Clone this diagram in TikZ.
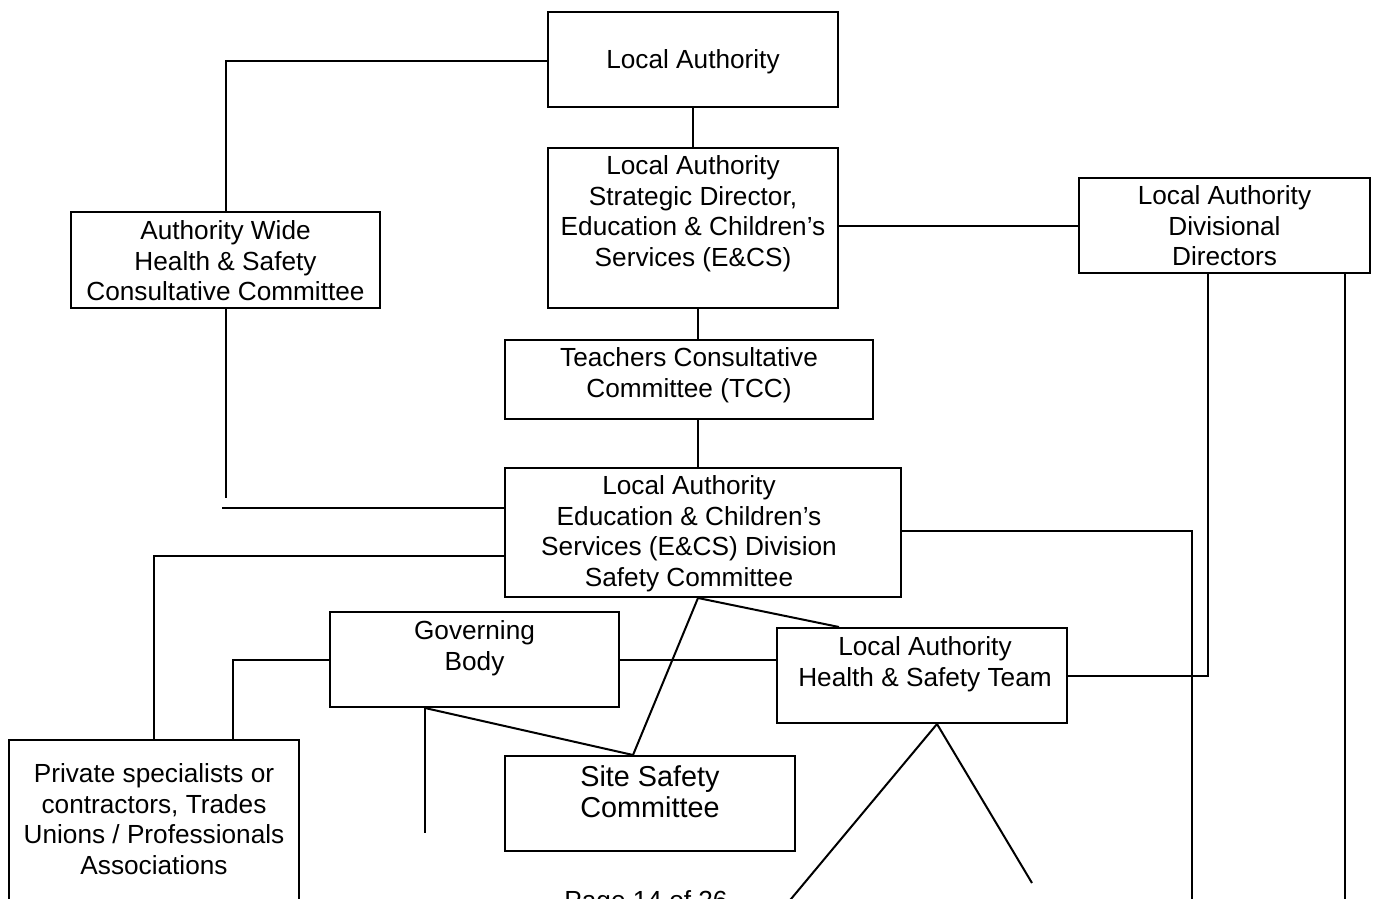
\documentclass[tikz,border=0pt]{standalone}
\usepackage{fontspec}
\setmainfont{Liberation Sans}
\usetikzlibrary{positioning}
\newcommand{\boxFont}[0]{\fontsize{26.2}{30.5}\selectfont}
\newcommand{\siteFont}[0]{\fontsize{28.8}{31}\selectfont}
\newcommand{\lineWidth}[0]{2pt}

\begin{document}
\begin{tikzpicture}[x=1pt, y=-1pt, line width=\lineWidth]
  \tikzset{orgbox/.style={draw, inner sep=0, anchor=north west},
    boxtext/.style={inner sep=0, align=center, font=\boxFont}}
  \useasboundingbox (0,0) rectangle (1373,899);
  \fill[white] (0,0) rectangle (1373,899);

  \node[orgbox, minimum width=290pt, minimum height=95pt] (la) at (547,11) {};
  \node[orgbox, minimum width=290pt, minimum height=160pt] (sd) at (547,147) {};
  \node[orgbox, minimum width=291pt, minimum height=95pt] (dd) at (1078,177) {};
  \node[orgbox, minimum width=309pt, minimum height=96pt] (aw) at (70,211) {};
  \node[orgbox, minimum width=368pt, minimum height=79pt] (tcc) at (504,339) {};
  \node[orgbox, minimum width=396pt, minimum height=129pt] (dsc) at (504,467) {};
  \node[orgbox, minimum width=289pt, minimum height=95pt] (gb) at (329,611) {};
  \node[orgbox, minimum width=290pt, minimum height=95pt] (hst) at (776,627) {};
  \node[orgbox, minimum width=290pt, minimum height=95pt] (ssc) at (504,755) {};
  \node[orgbox, minimum width=290pt, minimum height=200pt] (ps) at (8,739) {};

  \node[boxtext, below=38pt of la.north] (la-t) {Local Authority};
  \node[boxtext, below=8pt of sd.north] (sd-t) {Local Authority\\Strategic Director,\\Education \& Children’s\\Services (E\&CS)};
  \node[boxtext, below=8pt of dd.north] (dd-t) {Local Authority\\Divisional\\Directors};
  \node[boxtext, below=9pt of aw.north] (aw-t) {Authority Wide\\Health \& Safety\\Consultative Committee};
  \node[boxtext, below=8pt of tcc.north] (tcc-t) {Teachers Consultative\\Committee (TCC)};
  \node[boxtext, below=8pt of dsc.north, xshift=-14pt] (dsc-t) {Local Authority\\Education \& Children’s\\Services (E\&CS) Division\\Safety Committee};
  \node[boxtext, below=9pt of gb.north] (gb-t) {Governing\\Body};
  \node[boxtext, below=9pt of hst.north, xshift=3pt] (hst-t) {Local Authority\\Health \& Safety Team};
  \node[boxtext, font=\siteFont, below=10pt of ssc.north] (ssc-t) {Site Safety\\Committee};
  \node[boxtext, below=24pt of ps.north] (ps-t) {Private specialists or\\contractors, Trades\\Unions / Professionals\\Associations};
  \node[boxtext, anchor=base] (page) at (646,909) {Page 14 of 26};

  \coordinate (aw-end) at (222,498);
  \coordinate (dsc-in) at (222,508);
  \coordinate (dsc-out) at (1192,905);
  \coordinate (dd-out) at (1345,905);
  \coordinate (gb-end) at (425,833);
  \coordinate (hst-l) at (786,905);
  \coordinate (hst-r) at (1032,883);

  \draw ([yshift=-50pt]la.north west) -| (aw.north);
  \draw (la) -- (sd);
  \draw (dd.west) -- (dd.west -| sd.east);
  \draw ([xshift=5pt]sd.south) -- ([xshift=9pt]tcc.north);
  \draw ([xshift=9pt]tcc.south) -- ([xshift=-5pt]dsc.north);
  \draw (aw.south) -- (aw.south |- aw-end);
  \draw (dsc-in) -- (dsc.west |- dsc-in);
  \draw ([yshift=-89pt]dsc.north west) -| (ps.north);
  \draw ([yshift=-64pt]dsc.north east) -| (dsc-out);
  \draw ([xshift=130pt]dd.south west) |- (hst.east);
  \draw (dd-out |- dd.south) -- (dd-out);
  \draw ([xshift=-5pt]dsc.south) -- ([xshift=-83pt]hst.north);
  \draw ([xshift=-5pt]dsc.south) -- ([xshift=-17pt]ssc.north);
  \draw (gb.west) -| ([xshift=225pt]ps.north west);
  \draw (gb.east) -- (gb.east -| hst.west);
  \draw ([xshift=96pt]gb.south west) -- ([xshift=-17pt]ssc.north);
  \draw (gb-end |- gb.south) -- (gb-end);
  \draw (hst-l) -- ([xshift=15pt]hst.south) -- (hst-r);
\end{tikzpicture}
\end{document}
